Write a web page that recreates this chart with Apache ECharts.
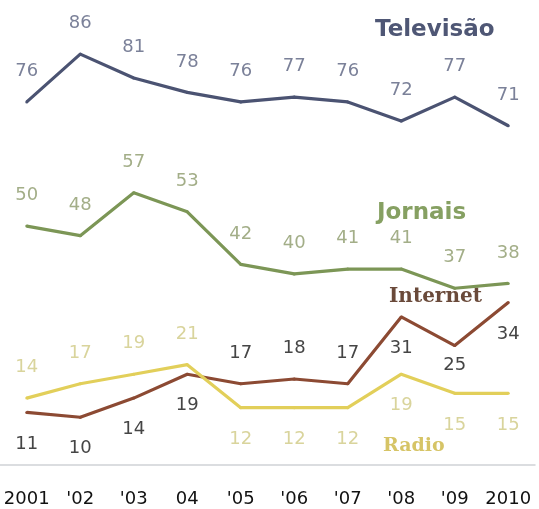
<!DOCTYPE html>
<html><head><meta charset="utf-8">
<script src="https://cdn.jsdelivr.net/npm/echarts@6/dist/echarts.min.js"></script>
<style>html,body{margin:0;padding:0;background:#fff}#c{width:539px;height:509px}</style>
</head><body><div id="c"></div>
<script>
const years = ["2001", "'02", "'03", "04", "'05", "'06", "'07", "'08", "'09", "2010"];
const televisao = [76, 86, 81, 78, 76, 77, 76, 72, 77, 71];
const jornais = [50, 48, 57, 53, 42, 40, 41, 41, 37, 38];
const internet = [11, 10, 14, 19, 17, 18, 17, 31, 25, 34];
const radio = [14, 17, 19, 21, 12, 12, 12, 19, 15, 15];

// ---- presentation config ----
const FONT = "DejaVu Sans";
// label placement per point: 't' = above, 'b' = below, 'n' = below, close to the line
const labelPlacement = {
  'Internet': ['b', 'b', 'b', 'b', 't', 't', 't', 'b', 'n', 'b'],
  'Radio': ['t', 't', 't', 't', 'b', 'b', 'b', 'b', 'b', 'b']
};
function mk(name, vals) {
  const sides = labelPlacement[name];
  return vals.map((v, i) => {
    const s = sides ? sides[i] : 't';
    const lab = s === 't' ? { position: 'top', distance: 20 }
      : s === 'b' ? { position: 'bottom', distance: 21 }
      : { position: 'bottom', distance: 9 };
    return { value: v, label: lab };
  });
}
function series(name, vals, lineColor, labelColor) {
  return {
    name, type: 'line', data: mk(name, vals),
    symbol: 'circle', symbolSize: 3, showSymbol: true,
    itemStyle: { color: lineColor },
    lineStyle: { color: lineColor, width: 3.2 },
    label: { show: true, color: labelColor, fontSize: 18, fontFamily: FONT },
    labelLayout: { hideOverlap: false },
    z: 3
  };
}
const chart = echarts.init(document.getElementById('c'));
chart.setOption({
  animation: false,
  grid: { left: 0, right: 4, top: 35, bottom: 44, containLabel: false },
  xAxis: {
    type: 'category', data: years, boundaryGap: true,
    axisLine: { show: true, lineStyle: { color: '#cfd2d6', width: 1.5 } },
    axisTick: { show: false },
    axisLabel: { color: '#111', fontSize: 18, fontFamily: FONT, margin: 25, interval: 0 }
  },
  yAxis: { type: 'value', min: 0, max: 90, show: false, splitLine: { show: false } },
  series: [
    series('Televisão', televisao, '#4b5372', '#7b8199'),
    series('Jornais', jornais, '#7c9656', '#a3ae88'),
    series('Internet', internet, '#8c4a33', '#454545'),
    series('Radio', radio, '#e2cf5a', '#d9d49c')
  ],
  graphic: [
    { type: 'text', left: 375, top: 19, style: { text: 'Televisão', font: 'bold 23px "DejaVu Sans"', fill: '#4f5775' } },
    { type: 'text', left: 377, top: 202, style: { text: 'Jornais', font: 'bold 23px "DejaVu Sans"', fill: '#86a062' } },
    { type: 'text', left: 389, top: 287, style: { text: 'Internet', font: 'bold 20px "DejaVu Serif"', fill: '#6a4a3a' } },
    { type: 'text', left: 383, top: 437, style: { text: 'Radio', font: 'bold 19px "DejaVu Serif"', fill: '#d6c466' } }
  ]
});
</script></body></html>
